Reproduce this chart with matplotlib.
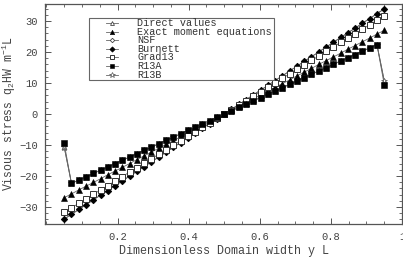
import numpy as np
import matplotlib
matplotlib.use("Agg")
import matplotlib.pyplot as plt
from matplotlib.ticker import MultipleLocator
from matplotlib.patches import Rectangle
from matplotlib.lines import Line2D

plt.rcParams['font.family'] = ['Liberation Mono', 'DejaVu Sans']
plt.rcParams['mathtext.fontset'] = 'custom'
plt.rcParams['mathtext.rm'] = 'Liberation Mono'
plt.rcParams['mathtext.it'] = 'Liberation Mono'

# x positions of the samples (45 points between 0.05 and 0.95)
y_pos = np.linspace(0.05, 0.95, 45)

burnett = [-33.9, -32.4, -30.8, -29.3, -27.7, -26.2, -24.7, -23.1, -21.6, -20.0,
           -18.5, -17.0, -15.4, -13.9, -12.3, -10.8, -9.2, -7.7, -6.2, -4.6,
           -3.1, -1.5, 0.0, 1.5, 3.1, 4.6, 6.2, 7.7, 9.2, 10.8,
           12.3, 13.9, 15.4, 17.0, 18.5, 20.0, 21.6, 23.1, 24.7, 26.2,
           27.7, 29.3, 30.8, 32.4, 33.9]
nsf = list(burnett)
grad13 = [-31.7, -30.3, -28.8, -27.4, -25.9, -24.5, -23.1, -21.6, -20.2, -18.7,
          -17.3, -15.9, -14.4, -13.0, -11.5, -10.1, -8.6, -7.2, -5.8, -4.3,
          -2.9, -1.4, 0.0, 1.4, 2.9, 4.3, 5.8, 7.2, 8.6, 10.1,
          11.5, 13.0, 14.4, 15.9, 17.3, 18.7, 20.2, 21.6, 23.1, 24.5,
          25.9, 27.4, 28.8, 30.3, 31.7]
exact = [-27.0, -25.8, -24.5, -23.3, -22.1, -20.9, -19.6, -18.4, -17.2, -16.0,
         -14.7, -13.5, -12.3, -11.0, -9.8, -8.6, -7.4, -6.1, -4.9, -3.7,
         -2.5, -1.2, 0.0, 1.2, 2.5, 3.7, 4.9, 6.1, 7.4, 8.6,
         9.8, 11.0, 12.3, 13.5, 14.7, 16.0, 17.2, 18.4, 19.6, 20.9,
         22.1, 23.3, 24.5, 25.8, 27.0]
r13a = [-9.5, -22.4, -21.3, -20.3, -19.2, -18.1, -17.1, -16.0, -14.9, -13.9,
        -12.8, -11.7, -10.7, -9.6, -8.5, -7.5, -6.4, -5.3, -4.3, -3.2,
        -2.1, -1.1, 0.0, 1.1, 2.1, 3.2, 4.3, 5.3, 6.4, 7.5,
        8.5, 9.6, 10.7, 11.7, 12.8, 13.9, 14.9, 16.0, 17.1, 18.1,
        19.2, 20.3, 21.3, 22.4, 9.5]
r13b = [-10.7, -22.4, -21.3, -20.3, -19.2, -18.1, -17.1, -16.0, -14.9, -13.9,
        -12.8, -11.7, -10.7, -9.6, -8.5, -7.5, -6.4, -5.3, -4.3, -3.2,
        -2.1, -1.1, 0.0, 1.1, 2.1, 3.2, 4.3, 5.3, 6.4, 7.5,
        8.5, 9.6, 10.7, 11.7, 12.8, 13.9, 14.9, 16.0, 17.1, 18.1,
        19.2, 20.3, 21.3, 22.4, 10.8]
direct = list(r13b)

labels = ['Direct values', 'Exact moment equations', 'NSF', 'Burnett',
          'Grad13', 'R13A', 'R13B']

fig = plt.figure(figsize=(4.03, 2.58), dpi=100)
ax = fig.add_axes([0.1117, 0.1318, 0.8858, 0.8527])

lc = '#666666'
lw = 0.6
styles = {
    'Direct values': dict(marker='^', ms=3.5, mfc='white', mec='#444444', mew=0.6),
    'Exact moment equations': dict(marker='^', ms=4, mfc='black', mec='black', mew=0.4),
    'NSF': dict(marker='D', ms=2.8, mfc='white', mec='#444444', mew=0.6),
    'Burnett': dict(marker='D', ms=3.4, mfc='black', mec='black', mew=0.4),
    'Grad13': dict(marker='s', ms=4.4, mfc='white', mec='#333333', mew=0.7),
    'R13A': dict(marker='s', ms=4.4, mfc='black', mec='black', mew=0.4),
    'R13B': dict(marker='*', ms=5, mfc='white', mec='#555555', mew=0.5),
}
series = {'Direct values': direct, 'Exact moment equations': exact, 'NSF': nsf,
          'Burnett': burnett, 'Grad13': grad13, 'R13A': r13a, 'R13B': r13b}

for name in ['Direct values', 'Exact moment equations', 'NSF', 'Burnett',
             'Grad13', 'R13B', 'R13A']:
    ax.plot(y_pos, series[name], '-', color=lc, lw=lw, **styles[name])

ax.set_xlim(-0.004, 1.0)
ax.set_ylim(-35.5, 35.5)
ax.xaxis.set_major_locator(MultipleLocator(0.2))
ax.xaxis.set_minor_locator(MultipleLocator(0.05))
ax.yaxis.set_major_locator(MultipleLocator(10))
ax.yaxis.set_minor_locator(MultipleLocator(2))
ax.set_xticks([0.2, 0.4, 0.6, 0.8, 1.0])
ax.set_xticklabels(['0.2', '0.4', '0.6', '0.8', '1'])

ax.tick_params(which='both', direction='in', top=True, right=True,
               colors='#555555', labelcolor='#444444', labelsize=7.6)
ax.tick_params(which='major', length=4, width=0.7)
ax.tick_params(which='minor', length=2, width=0.6)
ax.tick_params(axis='x', pad=6)
ax.tick_params(axis='y', pad=5)
for s in ax.spines.values():
    s.set_color('#555555')
    s.set_linewidth(0.9)

ax.set_xlabel('Dimensionless Domain width y L', fontsize=8.5, color='#444444', labelpad=2)
ax.set_ylabel('Visous stress q$_2$HW m$^{-1}$L', fontsize=8.3, color='#444444',
              va='center')
ax.yaxis.set_label_coords(-0.1, 0.5)

# manual legend (in axes coordinates)
x0, x1 = 0.123, 0.641
yt, yb = 0.936, 0.655
ax.add_patch(Rectangle((x0, yb), x1 - x0, yt - yb, transform=ax.transAxes,
                       facecolor='white', edgecolor='#666666', lw=0.8, zorder=5))
row_top = 0.914
row_step = 0.0392
mx = 0.187
for i, name in enumerate(labels):
    yy = row_top - i * row_step
    ax.add_line(Line2D([mx - 0.017, mx + 0.017], [yy, yy], transform=ax.transAxes,
                       color=lc, lw=lw, zorder=6))
    st = dict(styles[name])
    st['ms'] = st['ms'] * 0.8
    ax.add_line(Line2D([mx], [yy], transform=ax.transAxes, ls='none', zorder=7, **st))
    ax.text(0.258, yy, name, transform=ax.transAxes, fontsize=7.3, color='#333333',
            va='center', ha='left', zorder=7)

fig.savefig('out.png', dpi=100)
